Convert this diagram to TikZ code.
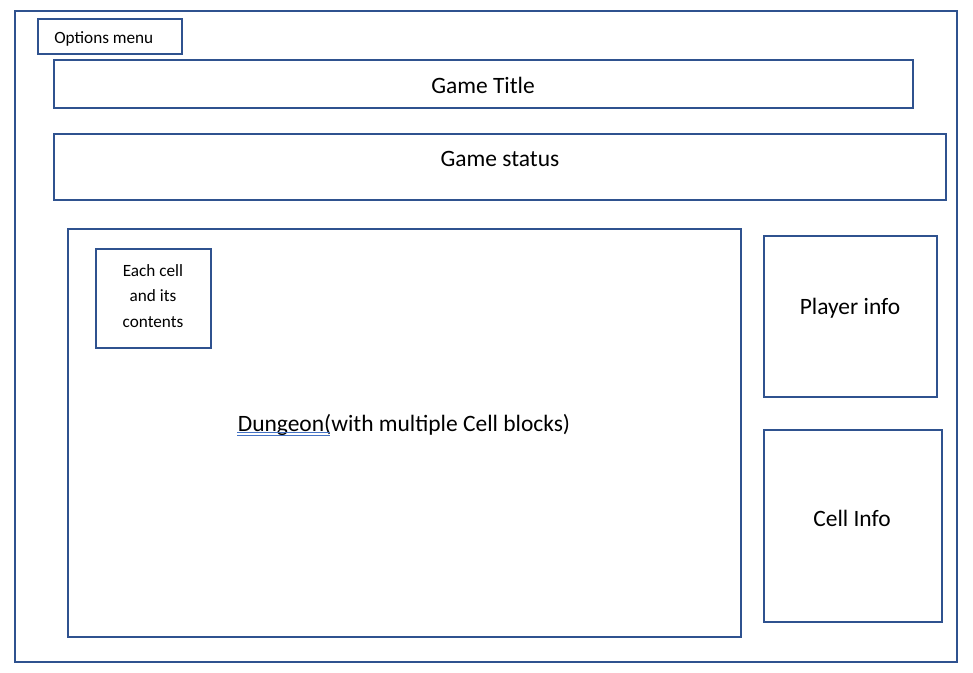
\documentclass[tikz,border=0pt]{standalone}
\usepackage{fontspec}
\setmainfont{Carlito}
\usepackage{xcolor}
\definecolor{boxblue}{RGB}{47,82,143}
\definecolor{checkblue}{RGB}{68,114,196}

\begin{document}
\begin{tikzpicture}[x=0.75pt, y=-0.75pt]
\tikzset{box/.style={draw=boxblue, line width=1.5pt, rectangle, inner sep=0pt},
  bigtext/.style={font=\fontsize{17.6}{21}\selectfont, inner sep=0pt},
  smalltext/.style={font=\fontsize{12.9}{18.9}\selectfont, inner sep=0pt, align=center}}
\useasboundingbox (0,0) rectangle (973,672);
% outer frame
\node[box, minimum width=942*0.75pt, minimum height=651*0.75pt] (screen) at (486,336.5) {};
% top bars
\node[box, minimum width=144*0.75pt, minimum height=35*0.75pt] (options) at (110,36.5) {};
\node[smalltext, anchor=west] (optionstext) at (54,39) {Options menu};
\node[box, minimum width=859*0.75pt, minimum height=48*0.75pt] (title) at (483.5,84) {};
\node[bigtext] (titletext) at (483,85) {Game Title};
\node[box, minimum width=892*0.75pt, minimum height=66*0.75pt] (status) at (500,167) {};
\node[bigtext] (statustext) at (500,159) {Game status};
% dungeon area
\node[box, minimum width=673*0.75pt, minimum height=408*0.75pt] (dungeon) at (404.5,433) {};
\node[bigtext] (dungeontext) at (404,425) {Dungeon(with multiple Cell blocks)};
\coordinate (ulstart) at (237,432.5);
\coordinate (ulend) at (330,432.5);
\draw[checkblue, line width=0.6pt] (ulstart) -- (ulend);
\draw[checkblue, line width=0.6pt] ([yshift=-3*0.75pt]ulstart) -- ([yshift=-3*0.75pt]ulend);
\node[box, minimum width=115*0.75pt, minimum height=99*0.75pt] (cell) at (153.5,298.5) {};
\node[smalltext] (celltext) at (153,296) {Each cell\\and its\\contents};
% side panels
\node[box, minimum width=173*0.75pt, minimum height=161*0.75pt] (player) at (850.5,316.5) {};
\node[bigtext] (playertext) at (850,308) {Player info};
\node[box, minimum width=178*0.75pt, minimum height=192*0.75pt] (cellinfo) at (853,526) {};
\node[bigtext] (cellinfotext) at (852,518) {Cell Info};
\end{tikzpicture}
\end{document}
